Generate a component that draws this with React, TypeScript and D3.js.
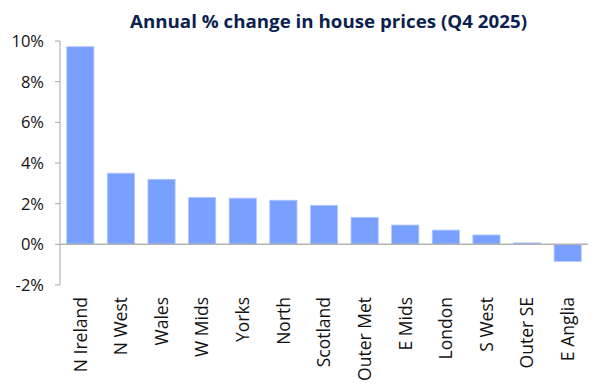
import React from "react";
import * as d3 from "d3";

const categories = ["N Ireland", "N West", "Wales", "W Mids", "Yorks", "North", "Scotland", "Outer Met", "E Mids", "London", "S West", "Outer SE", "E Anglia"];
const values = [9.72, 3.5, 3.2, 2.31, 2.27, 2.17, 1.92, 1.33, 0.95, 0.7, 0.46, 0.07, -0.84];
const yTicks = [-2, 0, 2, 4, 6, 8, 10];
const title = "Annual % change in house prices (Q4 2025)";

const W = 598, H = 391;
const left = 60, right = 588, top = 41, bottom = 285;

export default function App() {
  const x = d3.scaleBand<string>().domain(categories).range([left, right]).paddingInner(0.33).paddingOuter(0.165);
  const y = d3.scaleLinear().domain([-2, 10]).range([bottom, top]);
  const font = "'Open Sans', sans-serif";
  return (
    <svg width={W} height={H} style={{ position: "absolute", left: 0, top: 0, background: "#fff" }}>
      <text x={328.5} y={28} textAnchor="middle" fontFamily={font} fontWeight={700} fontSize={17.5} fill="#0d1f4f" textLength={397} lengthAdjust="spacingAndGlyphs">{title}</text>
      {categories.map((c, i) => {
        const v = values[i];
        return (
          <rect key={c} x={x(c)} y={y(Math.max(0, v))} width={x.bandwidth()} height={Math.abs(y(v) - y(0))}
            fill="#7aa0ff" stroke="#b3c9ff" strokeWidth={0.8} />
        );
      })}
      <line x1={left} x2={right} y1={y(0)} y2={y(0)} stroke="#b4b4b4" strokeWidth={1.5} />
      <line x1={left} x2={left} y1={top} y2={bottom} stroke="#a6a6a6" strokeWidth={1} />
      {yTicks.map((t) => (
        <g key={t}>
          <line x1={left - 5} x2={left} y1={y(t)} y2={y(t)} stroke="#a6a6a6" strokeWidth={1} />
          <text x={44} y={y(t)} dy="0.36em" textAnchor="end" fontFamily={font} fontSize={16.5} fill="#111">{`${t}%`}</text>
        </g>
      ))}
      {categories.map((c) => {
        const cx = (x(c) as number) + x.bandwidth() / 2;
        return (
          <text key={c} transform={`translate(${cx},297) rotate(-90)`} dy="0.36em" textAnchor="end" fontFamily={font} fontSize={17.5} fill="#111">{c}</text>
        );
      })}
    </svg>
  );
}
